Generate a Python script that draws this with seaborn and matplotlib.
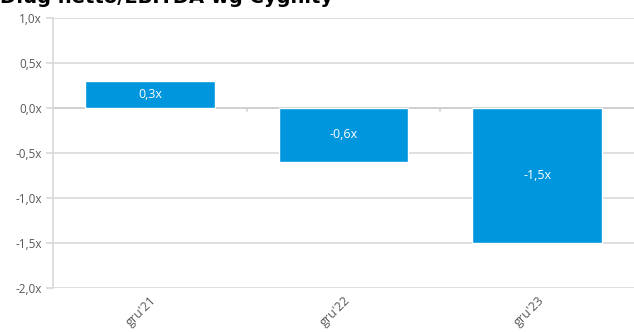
import matplotlib
matplotlib.use("Agg")
import matplotlib.pyplot as plt
import seaborn as sns
import pandas as pd

categories = ["gru'21", "gru'22", "gru'23"]
values = [0.3, -0.6, -1.5]
labels = ["0,3x", "-0,6x", "-1,5x"]
yticks = [1.0, 0.5, 0.0, -0.5, -1.0, -1.5, -2.0]
ytick_labels = ["1,0x", "0,5x", "0,0x", "-0,5x", "-1,0x", "-1,5x", "-2,0x"]
title = "Dług netto/EBITDA wg Cygnity"

sns.set_theme(style="white")
plt.rcParams['font.family'] = ['Open Sans', 'DejaVu Sans']

df = pd.DataFrame({"cat": categories, "val": values})

fig = plt.figure(figsize=(6.34, 3.32), dpi=100)
ax = fig.add_axes([53/634, 1 - 288/332, 581/634, 270/332])

sns.barplot(data=df, x="cat", y="val", color="#0096DD", saturation=1,
            width=0.67, ax=ax, zorder=3)

ax.set_ylim(-2.0, 1.0)
ax.set_xlim(-0.5, len(categories) - 0.5)
ax.set_yticks(yticks)
ax.set_yticklabels(ytick_labels, fontsize=8.5, color="#595959")
ax.yaxis.grid(True, color="#D9D9D9", linewidth=1.2, zorder=0)
ax.set_xlabel("")
ax.set_ylabel("")

for s in ["top", "right", "bottom"]:
    ax.spines[s].set_visible(False)
ax.spines["left"].set_color("#D9D9D9")
ax.spines["left"].set_linewidth(1.2)
ax.tick_params(axis="y", length=5, width=1.2, color="#D9D9D9", pad=3, left=True)
ax.tick_params(axis="x", length=0, pad=4)
ax.set_xticks(range(len(categories)))
ax.set_xticklabels(categories, rotation=45, ha="right", rotation_mode="anchor",
                   fontsize=9, color="#595959")

# zero axis line with category separators
ax.axhline(0, color="#D0D0D0", linewidth=1.3, zorder=2)
for b in range(1, len(categories)):
    ax.plot([b - 0.5, b - 0.5], [0, -0.035], color="#D0D0D0", linewidth=1.2, zorder=2)

for i, (v, lab) in enumerate(zip(values, labels)):
    ax.text(i, v / 2, lab, ha="center", va="center", color="white", fontsize=9, zorder=4)

fig.text(0.0, 1 - 7/332, title, fontsize=14, fontweight="bold", color="#000000",
         family=["DejaVu Sans"], ha="left", va="bottom")

fig.savefig("out.png", dpi=100)
